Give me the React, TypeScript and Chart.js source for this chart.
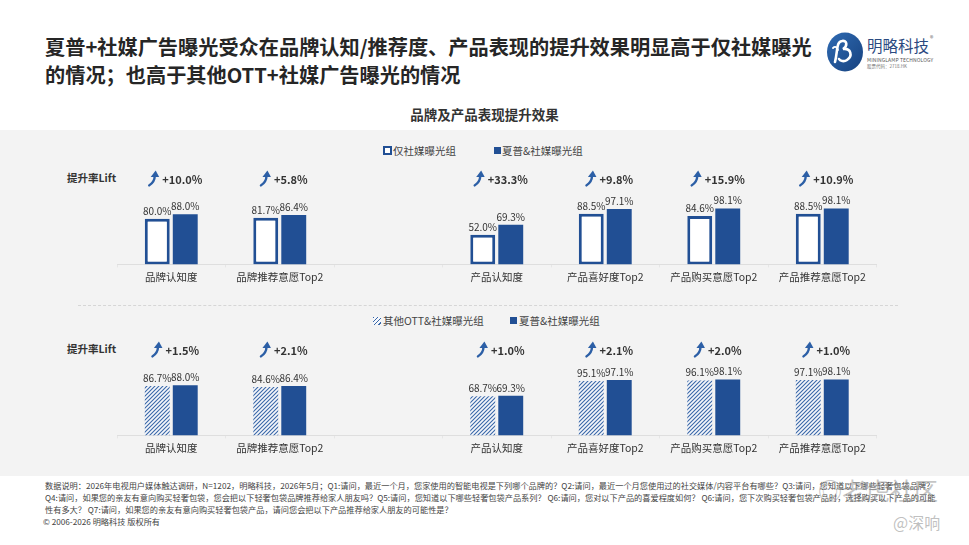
import React, { useEffect, useRef } from "react";
import { Chart, registerables } from "chart.js";

Chart.register(...registerables);

const FONT = '"Noto Sans CJK SC", "Noto Sans", sans-serif';
const BLUE = "#214f94";

// ---- data ----
const categories = ["品牌认知度", "品牌推荐意愿Top2", "", "产品认知度", "产品喜好度Top2", "产品购买意愿Top2", "产品推荐意愿Top2"];
const socialOnly = [80.0, 81.7, null, 52.0, 88.5, 84.6, 88.5];
const sharpSocialTop = [88.0, 86.4, null, 69.3, 97.1, 98.1, 98.1];
const liftTop = ["+10.0%", "+5.8%", "", "+33.3%", "+9.8%", "+15.9%", "+10.9%"];
const otherOtt = [86.7, 84.6, null, 68.7, 95.1, 96.1, 97.1];
const sharpSocialBottom = [88.0, 86.4, null, 69.3, 97.1, 98.1, 98.1];
const liftBottom = ["+1.5%", "+2.1%", "", "+1.0%", "+2.1%", "+2.0%", "+1.0%"];
const seriesNames = ["仅社媒曝光组", "夏普&社媒曝光组", "其他OTT&社媒曝光组"];

function drawArrow(ctx: CanvasRenderingContext2D, x: number, y: number) {
  ctx.save();
  ctx.fillStyle = "#2c5fa6";
  ctx.strokeStyle = "#2c5fa6";
  ctx.lineWidth = 2.4;
  ctx.lineCap = "round";
  ctx.beginPath();
  ctx.moveTo(x - 4, y + 7);
  ctx.quadraticCurveTo(x + 1.5, y + 3, x + 1.5, y - 2);
  ctx.stroke();
  ctx.beginPath();
  ctx.moveTo(x + 2.5, y - 8);
  ctx.lineTo(x + 6, y - 1.5);
  ctx.lineTo(x - 2.5, y - 1.5);
  ctx.closePath();
  ctx.fill();
  ctx.restore();
}

const pairLabels = {
  id: "pairLabels",
  afterDatasetsDraw(chart: any, _args: any, opts: any) {
    const ctx: CanvasRenderingContext2D = chart.ctx;
    ctx.save();
    ctx.font = `10px ${FONT}`;
    ctx.fillStyle = "#333";
    ctx.textAlign = "center";
    ctx.textBaseline = "bottom";
    chart.data.datasets.forEach((ds: any, di: number) => {
      const meta = chart.getDatasetMeta(di);
      meta.data.forEach((el: any, i: number) => {
        const v = ds.data[i];
        if (v == null) return;
        ctx.fillText(v.toFixed(1) + "%", el.x, el.y - 3);
      });
    });
    const lifts: string[] = opts.lifts || [];
    const y = chart.chartArea.bottom - 86;
    ctx.font = `bold 11px ${FONT}`;
    ctx.textAlign = "left";
    ctx.textBaseline = "middle";
    lifts.forEach((t, i) => {
      if (!t) return;
      const cx = chart.scales.x.getPixelForValue(i) + 4;
      const tw = ctx.measureText(t).width;
      const total = 14 + tw;
      const start = cx - total / 2;
      drawArrow(ctx, start + 5, y);
      ctx.fillStyle = "#333";
      ctx.fillText(t, start + 14, y + 1);
    });
    ctx.restore();
  },
};

function makeHatch(): CanvasPattern | string {
  const c = document.createElement("canvas");
  c.width = 4;
  c.height = 4;
  const g = c.getContext("2d");
  if (!g) return "#8aa6cf";
  g.fillStyle = "#f5f7fb";
  g.fillRect(0, 0, 4, 4);
  g.strokeStyle = "#3a68a8";
  g.lineWidth = 1.1;
  g.beginPath();
  g.moveTo(0, 4);
  g.lineTo(4, 0);
  g.moveTo(-1, 1);
  g.lineTo(1, -1);
  g.moveTo(3, 5);
  g.lineTo(5, 3);
  g.stroke();
  return g.createPattern(c, "repeat") || "#8aa6cf";
}

function makeConfig(datasets: any[], lifts: string[]): any {
  return {
    type: "bar",
    data: { labels: categories, datasets },
    plugins: [pairLabels],
    options: {
      responsive: false,
      maintainAspectRatio: false,
      animation: false,
      layout: { padding: { left: 117, right: 92.5, top: 49.3, bottom: 4 } },
      plugins: {
        legend: { display: false },
        tooltip: { enabled: false },
        pairLabels: { lifts },
      },
      datasets: { bar: { categoryPercentage: 0.516, barPercentage: 0.89 } },
      scales: {
        x: {
          grid: { display: true, drawOnChartArea: false, drawTicks: true, tickLength: 3, color: "#e6e6e6", offset: true },
          border: { display: true, color: "#dedede" },
          ticks: { font: { size: 10.5, family: FONT }, color: "#333", padding: 3, autoSkip: false, maxRotation: 0 },
        },
        y: { display: false, min: 0, max: 100 },
      },
    },
  };
}

export default function App() {
  const topRef = useRef<HTMLCanvasElement>(null);
  const botRef = useRef<HTMLCanvasElement>(null);

  useEffect(() => {
    const hatch = makeHatch();
    const c1 = new Chart(
      topRef.current as HTMLCanvasElement,
      makeConfig(
        [
          { label: seriesNames[0], data: socialOnly, backgroundColor: "#ffffff", borderColor: BLUE, borderWidth: 3, borderSkipped: false },
          { label: seriesNames[1], data: sharpSocialTop, backgroundColor: BLUE, borderWidth: 0 },
        ],
        liftTop
      )
    );
    const c2 = new Chart(
      botRef.current as HTMLCanvasElement,
      makeConfig(
        [
          { label: seriesNames[2], data: otherOtt, backgroundColor: hatch, borderWidth: 0 },
          { label: seriesNames[1], data: sharpSocialBottom, backgroundColor: BLUE, borderWidth: 0 },
        ],
        liftBottom
      )
    );
    return () => {
      c1.destroy();
      c2.destroy();
    };
  }, []);

  const abs = (o: React.CSSProperties): React.CSSProperties => ({ position: "absolute", ...o });
  const legendText: React.CSSProperties = { fontSize: 10.5, color: "#444", whiteSpace: "nowrap" };

  return (
    <div style={{ position: "absolute", left: 0, top: 0, width: 969, height: 545, background: "#fff", overflow: "hidden", fontFamily: FONT }}>
      {/* title */}
      <div style={abs({ left: 45, top: 33, fontSize: 20.2, fontWeight: 700, color: "#262626", lineHeight: "28px", whiteSpace: "nowrap" })}>
        夏普+社媒广告曝光受众在品牌认知/推荐度、产品表现的提升效果明显高于仅社媒曝光
        <br />
        的情况；也高于其他OTT+社媒广告曝光的情况
      </div>
      {/* logo */}
      <svg style={abs({ left: 826, top: 32 })} width={38} height={40} viewBox="0 0 38 40">
        <defs>
          <linearGradient id="lg" x1="0" y1="0" x2="1" y2="1">
            <stop offset="0" stopColor="#2f6bb3" />
            <stop offset="1" stopColor="#17427f" />
          </linearGradient>
        </defs>
        <ellipse cx="19" cy="20" rx="18" ry="19.5" fill="url(#lg)" />
        <path d="M9 30 C 12 18, 10 10, 16 9 C 21 8, 22 14, 17 17 C 25 16, 27 24, 21 28 C 18 30, 14 29, 13 27" stroke="#fff" strokeWidth="2.6" fill="none" strokeLinecap="round" />
        <path d="M7 16 C 9 14, 11 15, 12 18" stroke="#fff" strokeWidth="1.8" fill="none" strokeLinecap="round" />
      </svg>
      <div style={abs({ left: 867, top: 36, fontSize: 15.5, color: "#2b4a80", whiteSpace: "nowrap", lineHeight: "18px" })}>明略科技</div>
      <div style={abs({ left: 930, top: 33, fontSize: 7, color: "#666" })}>®</div>
      <div style={abs({ left: 867, top: 56, fontSize: 5, color: "#555", whiteSpace: "nowrap", letterSpacing: 0.1 })}>MININGLAMP TECHNOLOGY</div>
      <div style={abs({ left: 867, top: 63, fontSize: 4.5, color: "#777", whiteSpace: "nowrap" })}>股票代码：2718.HK</div>

      {/* subtitle */}
      <div style={abs({ left: 0, width: 969, top: 104, textAlign: "center", fontSize: 13.5, fontWeight: 700, color: "#333" })}>品牌及产品表现提升效果</div>

      {/* grey panel */}
      <div style={abs({ left: 0, top: 130, width: 969, height: 346, background: "#f3f3f3" })} />

      {/* top legend */}
      <div style={abs({ left: 383, top: 146, width: 9, height: 9, boxSizing: "border-box", border: `2px solid ${BLUE}`, background: "#fff" })} />
      <div style={abs({ left: 393, top: 143, ...legendText })}>{seriesNames[0]}</div>
      <div style={abs({ left: 494, top: 147, width: 7, height: 7, background: BLUE })} />
      <div style={abs({ left: 502, top: 143, ...legendText })}>{seriesNames[1]}</div>

      <div style={abs({ left: 67, top: 170, fontSize: 10.5, fontWeight: 700, color: "#333", whiteSpace: "nowrap" })}>提升率Lift</div>

      {/* separator */}
      <div style={abs({ left: 78, top: 305, width: 820, borderTop: "1px dashed #d6d6d6" })} />

      {/* bottom legend */}
      <div style={abs({ left: 373, top: 317, width: 8, height: 8, background: "repeating-linear-gradient(135deg, #3a68a8 0 1px, #f5f7fb 1px 3px)" })} />
      <div style={abs({ left: 383, top: 313, ...legendText })}>{seriesNames[2]}</div>
      <div style={abs({ left: 510, top: 317, width: 7, height: 7, background: BLUE })} />
      <div style={abs({ left: 519, top: 313, ...legendText })}>{seriesNames[1]}</div>

      <div style={abs({ left: 67, top: 341, fontSize: 10.5, fontWeight: 700, color: "#333", whiteSpace: "nowrap" })}>提升率Lift</div>

      {/* charts */}
      <canvas ref={topRef} width={969} height={132} style={abs({ left: 0, top: 158, width: 969, height: 132 })} />
      <canvas ref={botRef} width={969} height={132} style={abs({ left: 0, top: 329, width: 969, height: 132 })} />

      {/* footnote */}
      <div style={abs({ left: 45, top: 479, fontSize: 8.2, color: "#444", lineHeight: "12px", whiteSpace: "nowrap" })}>
        数据说明：2026年电视用户媒体触达调研，N=1202，明略科技，2026年5月；Q1:请问，最近一个月，您家使用的智能电视是下列哪个品牌的？Q2:请问，最近一个月您使用过的社交媒体/内容平台有哪些？Q3:请问，您知道以下哪些轻奢包袋品牌？
        <br />
        Q4:请问，如果您的亲友有意向购买轻奢包袋，您会把以下轻奢包袋品牌推荐给家人朋友吗？Q5:请问，您知道以下哪些轻奢包袋产品系列？ Q6:请问，您对以下产品的喜爱程度如何？ Q6:请问，您下次购买轻奢包袋产品时，选择购买以下产品的可能
        <br />
        性有多大？ Q7:请问，如果您的亲友有意向购买轻奢包袋产品，请问您会把以下产品推荐给家人朋友的可能性是？
        <br />
        <span style={{ marginLeft: -2 }}>© 2006-2026 明略科技 版权所有</span>
      </div>

      {/* watermark */}
      <div style={abs({ left: 818, top: 472, fontSize: 24, color: "rgba(140,140,140,0.5)", whiteSpace: "nowrap" })}>◎老虎社区</div>
      <div style={abs({ left: 893, top: 510, fontSize: 16, color: "rgba(150,150,150,0.6)", whiteSpace: "nowrap" })}>@深响</div>
    </div>
  );
}
